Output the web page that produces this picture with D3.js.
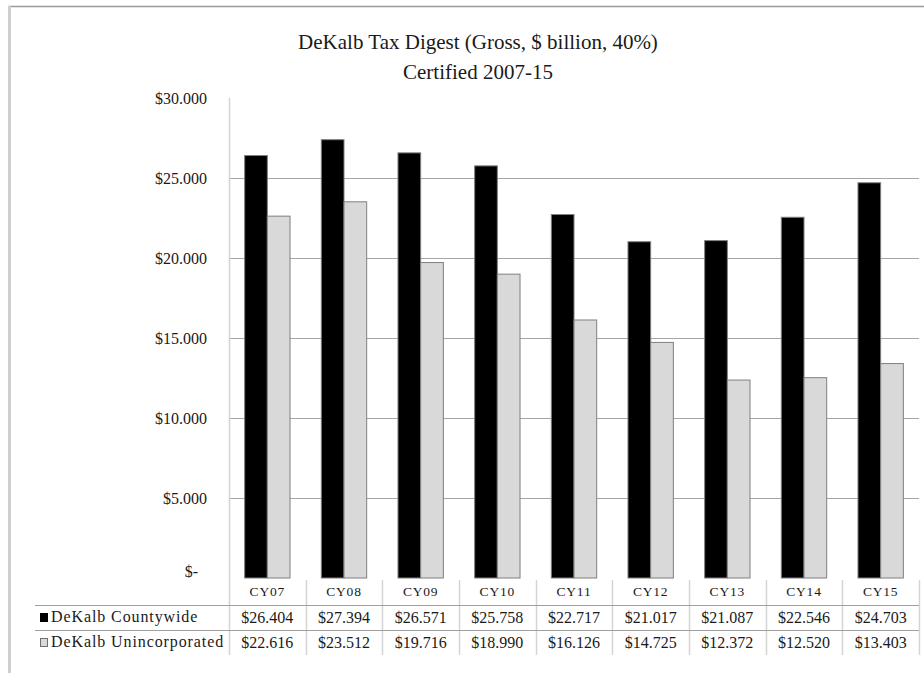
<!DOCTYPE html>
<html>
<head>
<meta charset="utf-8">
<script src="https://cdn.jsdelivr.net/npm/d3@7"></script>
<style>
  body { margin: 0; background: #fff; }
  svg text { font-family: "Liberation Serif", "Times New Roman", serif !important; fill: #1a1a1a; }
</style>
</head>
<body>
<div id="chart"></div>
<script>
// ---------------------------- data ----------------------------
const categories = ["CY07", "CY08", "CY09", "CY10", "CY11", "CY12", "CY13", "CY14", "CY15"];
const seriesNames = ["DeKalb Countywide", "DeKalb Unincorporated"];
const countywide = [26.404, 27.394, 26.571, 25.758, 22.717, 21.017, 21.087, 22.546, 24.703];
const unincorporated = [22.616, 23.512, 19.716, 18.990, 16.126, 14.725, 12.372, 12.520, 13.403];
const yTicks = [0, 5, 10, 15, 20, 25, 30];
const titleLines = ["DeKalb Tax Digest (Gross, $ billion, 40%)", "Certified 2007-15"];

const seriesValues = [countywide, unincorporated];
const seriesFill = ["#000000", "#d9d9d9"];

const WIDTH = 924, HEIGHT = 673;
const plot = {left: 229, right: 919, top: 98, bottom: 578};
const rowH = 25;
const tableTop = plot.bottom + 27;   // first data row top
const tableLeft = 35;
const FONT = "'Liberation Serif', 'Times New Roman', serif";

const svg = d3.select("#chart")
    .append("svg")
    .attr("width", WIDTH)
    .attr("height", HEIGHT)
    .attr("font-family", FONT);

// ---------------------------- frame ----------------------------
svg.append("line")
    .attr("x1", 8).attr("x2", WIDTH).attr("y1", 6.5).attr("y2", 6.5)
    .attr("stroke", "#9a9a9a").attr("stroke-width", 1.5);
svg.append("line")
    .attr("x1", 9.5).attr("x2", 9.5).attr("y1", 6).attr("y2", HEIGHT)
    .attr("stroke", "#cfcfcf").attr("stroke-width", 3);

// ---------------------------- title ----------------------------
svg.append("text")
    .attr("x", 478)
    .attr("text-anchor", "middle")
    .style("font-family", FONT)
    .style("font-size", "21px")
    .selectAll("tspan")
    .data(titleLines)
    .enter()
    .append("tspan")
    .attr("x", 478)
    .attr("y", (d, i) => 49 + i * 30)
    .text(d => d);

// ---------------------------- scales ----------------------------
const x = d3.scaleBand()
    .domain(categories)
    .range([plot.left, plot.right])
    .padding(0);

const xSub = d3.scaleBand()
    .domain(seriesNames)
    .range([0, x.bandwidth()])
    .paddingInner(0)
    .paddingOuter(0.69);

const y = d3.scaleLinear()
    .domain([0, 30])
    .range([plot.bottom, plot.top]);

// ---------------------------- gridlines + axis ----------------------------
svg.append("g")
    .selectAll("line")
    .data(yTicks.filter(t => t > 0 && t < 30))
    .enter()
    .append("line")
    .attr("x1", plot.left).attr("x2", plot.right)
    .attr("y1", d => Math.round(y(d)) + 0.5)
    .attr("y2", d => Math.round(y(d)) + 0.5)
    .attr("stroke", "#a6a6a6")
    .attr("stroke-width", 1);

const yAxis = d3.axisLeft(y)
    .tickValues(yTicks)
    .tickSize(0)
    .tickPadding(22)
    .tickFormat(d => d === 0 ? "$-" : "$" + d3.format(".3f")(d));

const yAxisG = svg.append("g")
    .attr("transform", `translate(${plot.left},0)`)
    .call(yAxis)
    .attr("font-family", FONT);
yAxisG.select(".domain").remove();
yAxisG.selectAll("text")
    .style("font-size", "16px")
    .style("font-family", FONT)
    .attr("fill", "#1a1a1a")
    .attr("dx", d => d === 0 ? -9 : 0)
    .attr("dy", d => d === 0 ? "-0.1em" : "0.32em");

// ---------------------------- bars ----------------------------
const groups = svg.append("g")
    .selectAll("g")
    .data(categories)
    .enter()
    .append("g")
    .attr("transform", d => `translate(${x(d)},0)`);

groups.selectAll("rect")
    .data((d, i) => seriesNames.map((s, j) => ({series: s, value: seriesValues[j][i], idx: j})))
    .enter()
    .append("rect")
    .attr("x", d => xSub(d.series))
    .attr("y", d => y(d.value))
    .attr("width", xSub.bandwidth())
    .attr("height", d => y(0) - y(d.value))
    .attr("fill", d => seriesFill[d.idx])
    .attr("stroke", "#7f7f7f")
    .attr("stroke-width", 1);

// ---------------------------- data table ----------------------------
// category labels row
svg.append("g")
    .selectAll("text")
    .data(categories)
    .enter()
    .append("text")
    .attr("x", d => x(d) + x.bandwidth() / 2)
    .attr("y", plot.bottom + 18)
    .attr("text-anchor", "middle")
    .style("font-family", FONT)
    .style("font-size", "13.5px")
    .style("letter-spacing", "0.8px")
    .text(d => d);

// vertical lines
const bounds = categories.map(c => x(c)).concat([plot.right]);
svg.append("g")
    .selectAll("line")
    .data(bounds)
    .enter()
    .append("line")
    .attr("x1", d => Math.round(d) + 0.5)
    .attr("x2", d => Math.round(d) + 0.5)
    .attr("y1", (d, i) => i === 0 ? plot.top : plot.bottom + 2)
    .attr("y2", tableTop + 2 * rowH)
    .attr("stroke", "#d4d4d4")
    .attr("stroke-width", 1.5);

// horizontal lines
svg.append("g")
    .selectAll("line")
    .data([tableTop, tableTop + rowH])
    .enter()
    .append("line")
    .attr("x1", tableLeft).attr("x2", plot.right)
    .attr("y1", d => d + 0.5).attr("y2", d => d + 0.5)
    .attr("stroke", "#a0a0a0")
    .attr("stroke-width", 1.2);

// rows
seriesNames.forEach((name, j) => {
    const rowY = tableTop + j * rowH;
    svg.append("rect")
        .attr("x", 40.5).attr("y", rowY + 8.5)
        .attr("width", 7).attr("height", 8)
        .attr("fill", seriesFill[j])
        .attr("stroke", j === 0 ? "#000" : "#6f6f6f")
        .attr("stroke-width", 1);
    svg.append("text")
        .attr("x", 51)
        .attr("y", rowY + 17)
        .style("font-family", FONT)
        .style("font-size", "16px")
        .style("letter-spacing", "0.9px")
        .text(name);
    svg.append("g")
        .selectAll("text")
        .data(seriesValues[j])
        .enter()
        .append("text")
        .attr("x", (d, i) => x(categories[i]) + x.bandwidth() / 2)
        .attr("y", rowY + 18)
        .attr("text-anchor", "middle")
        .style("font-family", FONT)
        .style("font-size", "16px")
        .text(d => "$" + d3.format(".3f")(d));
});
</script>
</body>
</html>
